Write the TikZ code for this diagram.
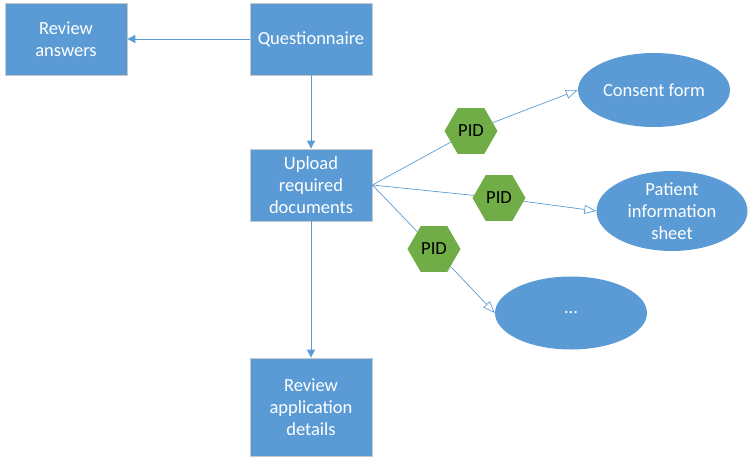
\documentclass[tikz,border=0pt]{standalone}
\usepackage{fontspec}
\setmainfont{Carlito}
\usetikzlibrary{shapes.geometric,arrows.meta}
\definecolor{boxblue}{HTML}{5B9BD5}
\definecolor{hexgreen}{HTML}{70AD47}
\definecolor{edgegray}{HTML}{C8C8C8}
\begin{document}
\begin{tikzpicture}[x=1pt,y=-1pt,
  lbl/.style={font=\fontsize{18.5}{22}\selectfont},
  box/.style={rectangle, fill=boxblue, draw=edgegray, line width=0.8pt, minimum width=122pt, minimum height=72pt, text=white, align=center, lbl, inner sep=0pt},
  doc/.style={ellipse, fill=boxblue, minimum width=152pt, minimum height=74pt, text=white, align=center, lbl, inner xsep=0pt, inner ysep=-8pt},
  hex/.style={regular polygon, regular polygon sides=6, fill=hexgreen, minimum size=53pt, inner sep=0pt, lbl},
  conn/.style={draw=boxblue, line width=0.9pt, -{Triangle[length=8pt,width=8pt]}},
  openconn/.style={draw=boxblue, line width=0.7pt, -{Triangle[open,length=12pt,width=9pt]}},
  plainconn/.style={draw=boxblue, line width=0.7pt}]
\useasboundingbox (0,0) rectangle (755,464);
\node[box] (ra) at (66,39) {Review\\answers};
\node[box] (q) at (311,39) {Questionnaire};
\node[box] (up) at (311,185) {Upload\\required\\documents};
\node[box, minimum height=98pt] (rad) at (311,407) {Review\\application\\details};
\node[doc] (cf) at (654,90) {Consent form};
\node[doc, minimum width=151pt, minimum height=80pt] (pi) at (672,211) {Patient\\information\\sheet};
\node[doc, minimum height=73pt] (etc) at (571,313) {...};
\node[hex] (p1) at (471,131) {PID};
\node[hex] (p2) at (499,198) {PID};
\node[hex] (p3) at (434,249) {PID};
\draw[conn] (q.west) -- (ra.east);
\draw[conn] (q.south) -- (up.north);
\draw[conn] (up.south) -- (rad.north);
\draw[plainconn] (up.east) -- (p1);
\draw[plainconn] (up.east) -- (p2);
\draw[plainconn] (up.east) -- (p3);
\draw[openconn] (p1) -- (cf.west);
\draw[openconn] (p2) -- (pi.west);
\draw[openconn] (p3) -- (etc.west);
\end{tikzpicture}
\end{document}
